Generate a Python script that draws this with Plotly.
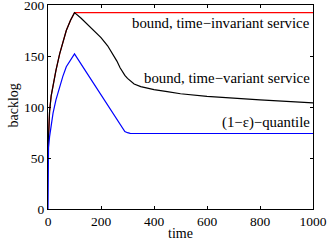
import plotly.graph_objects as go

# time-invariant bound (red)
red_t = [0, 2, 6, 12, 20, 30, 44, 56, 69, 85, 100, 1000]
red_b = [58, 75, 96, 111, 124, 136, 152, 164, 175, 185, 192.5, 192.5]

# time-variant bound (black)
blk_t = [0, 2, 6, 12, 20, 30, 44, 56, 69, 85, 100, 125, 150, 175, 200, 225, 250,
         260, 272, 280, 290, 300, 310, 325, 350, 375, 400, 450, 500, 600, 700, 800,
         900, 1000]
blk_b = [58, 75, 96, 111, 124, 136, 152, 164, 175, 185, 192.5, 187, 181, 175, 168,
         160, 150, 145, 138.5, 135, 131, 128, 125.5, 122.5, 120, 118.5, 117, 115,
         113, 110.5, 108.5, 107, 105.5, 104]

# (1-eps)-quantile (blue)
blu_t = [0, 0, 2, 6, 12, 19, 30, 44, 56, 69, 85, 100, 150, 200, 250, 270, 280,
         290, 300, 310, 400, 1000]
blu_b = [0, 51, 60, 71, 83, 94, 107, 120, 130, 139.5, 146, 152, 132, 112, 91.5,
         83, 79, 76, 74.8, 74.2, 74, 74]

x_ticks = [0, 200, 400, 600, 800, 1000]
y_ticks = [0, 50, 100, 150, 200]

labels = ["bound, time\u2212invariant service",
          "bound, time\u2212variant service",
          "(1\u2212\u03b5)\u2212quantile"]
label_y = [182.4, 128.7, 84.6]

FONT = "Liberation Serif, Times New Roman, serif"

fig = go.Figure()
fig.add_trace(go.Scatter(x=red_t, y=red_b, mode="lines",
                         line=dict(color="#ff0000", width=1.2)))
fig.add_trace(go.Scatter(x=blk_t, y=blk_b, mode="lines",
                         line=dict(color="#000000", width=1.2)))
fig.add_trace(go.Scatter(x=blu_t, y=blu_b, mode="lines",
                         line=dict(color="#0000ff", width=1.2)))

for txt, yy in zip(labels, label_y):
    fig.add_annotation(x=1, xref="paper", xanchor="right", xshift=-1,
                       y=yy, yref="y", yanchor="middle", text=txt,
                       showarrow=False, font=dict(family=FONT, size=14.8, color="black"))

# axis titles as annotations for exact placement
fig.add_annotation(x=0.5, xref="paper", y=0, yref="paper", yshift=-24,
                   xanchor="center", yanchor="middle", text="time", showarrow=False,
                   font=dict(family=FONT, size=14, color="black"))
fig.add_annotation(x=0, xref="paper", xshift=-35, y=0.5, yref="paper", yshift=1.5,
                   xanchor="center", yanchor="middle", text="backlog", textangle=-90,
                   showarrow=False, font=dict(family=FONT, size=14, color="black"))

axis_common = dict(showgrid=False, zeroline=False, showline=True, linecolor="black",
                   linewidth=1, mirror="ticks", ticks="inside", ticklen=3,
                   tickcolor="black", automargin=False, ticklabeloverflow="allow",
                   tickfont=dict(family=FONT, size=13.5, color="black"))

fig.update_xaxes(range=[0, 1000], tickvals=x_ticks, ticktext=[str(v) for v in x_ticks],
                 **axis_common)
fig.update_yaxes(range=[0, 200], tickvals=y_ticks, ticktext=[str(v) for v in y_ticks],
                 **axis_common)

fig.update_layout(width=327, height=246, showlegend=False,
                  margin=dict(l=48, r=14, t=5, b=37),
                  plot_bgcolor="white", paper_bgcolor="white",
                  font=dict(family=FONT, size=14, color="black"))

fig.write_html("out.html", config={"displayModeBar": False},
               post_script="document.body.style.margin='0';document.body.style.padding='0';")
